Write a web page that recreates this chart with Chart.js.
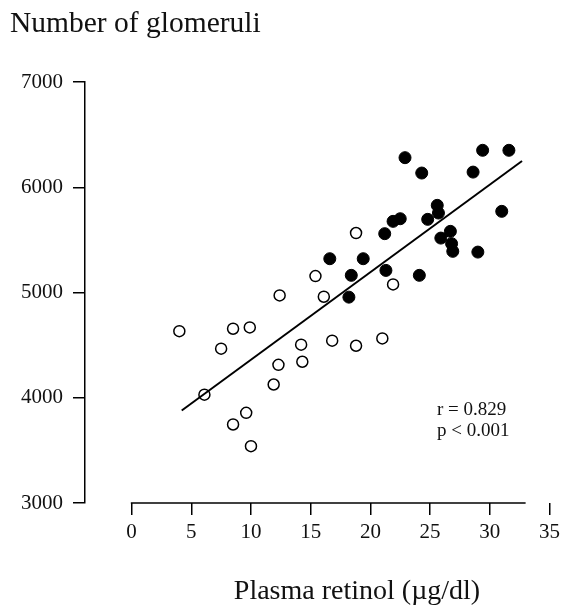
<!DOCTYPE html>
<html>
<head>
<meta charset="utf-8">
<script src="https://cdn.jsdelivr.net/npm/chart.js@4/dist/chart.umd.min.js"></script>
<style>
  html, body { margin: 0; padding: 0; background: #fff; }
  #wrap { width: 565px; height: 609px; position: relative; }
</style>
</head>
<body>
<div id="wrap"><canvas id="chart"></canvas></div>
<script>
// values
const openX = [4.0, 8.5, 9.9, 7.5, 6.1, 9.6, 8.5, 10.0, 11.9, 12.3, 14.2, 14.3, 16.8, 18.8, 21.0, 12.4, 16.1, 21.9, 15.4, 18.8];
const openY = [4633, 4656, 4668, 4466, 4029, 3857, 3746, 3540, 4126, 4313, 4504, 4342, 4542, 4494, 4564, 4972, 4960, 5077, 5156, 5565];

const filledX = [22.9, 24.3, 29.4, 31.6, 28.6, 31.0, 25.6, 25.7, 24.8, 22.5, 21.9, 21.2, 25.9, 26.7, 26.8, 26.9, 29.0, 16.6, 19.4, 18.4, 21.3, 24.1, 18.2];
const filledY = [6281, 6135, 6351, 6351, 6144, 5771, 5828, 5755, 5695, 5701, 5676, 5559, 5517, 5581, 5464, 5391, 5384, 5321, 5321, 5163, 5210, 5163, 4956];

const fitX = [4.2, 32.7];
const fitY = [3879, 6249];

const xTicks = [0, 5, 10, 15, 20, 25, 30, 35];
const yTicks = [3000, 4000, 5000, 6000, 7000];

const yTitle = 'Number of glomeruli';
const xTitle = 'Plasma retinol (\u00b5g/dl)';
const statLines = ['r = 0.829', 'p < 0.001'];

const SERIF = '"Liberation Serif", "DejaVu Serif", serif';

const pts = (xs, ys) => xs.map((x, i) => ({ x, y: ys[i] }));

// axis line for x only spans the tick range, titles and stats as text
const decorations = {
  id: 'decorations',
  afterDraw(chart) {
    const { ctx, scales: { x, y } } = chart;
    ctx.save();
    ctx.strokeStyle = '#000';
    ctx.lineWidth = 1.5;
    const yb = y.getPixelForValue(3000);
    ctx.beginPath();
    ctx.moveTo(x.getPixelForValue(0) - 0.75, yb);
    ctx.lineTo(x.getPixelForValue(33), yb);
    ctx.stroke();

    ctx.fillStyle = '#111';
    ctx.textBaseline = 'alphabetic';
    ctx.font = '29.5px ' + SERIF;
    ctx.textAlign = 'left';
    ctx.fillText(yTitle, 10, 32);
    ctx.font = '28px ' + SERIF;
    ctx.textAlign = 'center';
    ctx.fillText(xTitle, 357, 599);

    ctx.font = '19px ' + SERIF;
    ctx.textAlign = 'left';
    ctx.fillText(statLines[0], 437, 415);
    ctx.fillText(statLines[1], 437, 436);
    ctx.restore();
  }
};

new Chart(document.getElementById('chart'), {
  type: 'scatter',
  data: {
    datasets: [
      {
        type: 'line',
        data: pts(fitX, fitY),
        borderColor: '#000',
        borderWidth: 2,
        pointRadius: 0,
        fill: false
      },
      {
        data: pts(openX, openY),
        pointRadius: 5.5,
        pointBackgroundColor: '#fff',
        pointBorderColor: '#000',
        pointBorderWidth: 1.5
      },
      {
        data: pts(filledX, filledY),
        pointRadius: 6,
        pointBackgroundColor: '#000',
        pointBorderColor: '#000',
        pointBorderWidth: 1
      }
    ]
  },
  options: {
    responsive: true,
    maintainAspectRatio: false,
    animation: false,
    layout: { padding: { left: 0, right: 10, top: 82, bottom: 66 } },
    plugins: { legend: { display: false }, tooltip: { enabled: false } },
    scales: {
      x: {
        type: 'linear',
        min: -3.9,
        max: 35,
        afterBuildTicks: s => { s.ticks = xTicks.map(v => ({ value: v })); },
        afterFit: s => { s.height = 40; },
        border: { display: false },
        grid: { drawOnChartArea: false, drawTicks: true, tickLength: 12, color: '#000', lineWidth: 1.5 },
        ticks: { color: '#111', font: { family: SERIF, size: 21 }, padding: 5, maxRotation: 0, callback: v => String(v) }
      },
      y: {
        min: 3000,
        max: 7000,
        afterBuildTicks: s => { s.ticks = yTicks.map(v => ({ value: v })); },
        afterFit: s => { s.width = 85; },
        border: { display: true, color: '#000', width: 1.5 },
        grid: { drawOnChartArea: false, drawTicks: true, tickLength: 12, color: '#000', lineWidth: 1.5 },
        ticks: { color: '#111', font: { family: SERIF, size: 21 }, padding: 10, callback: v => String(v) }
      }
    }
  },
  plugins: [decorations]
});
</script>
</body>
</html>
